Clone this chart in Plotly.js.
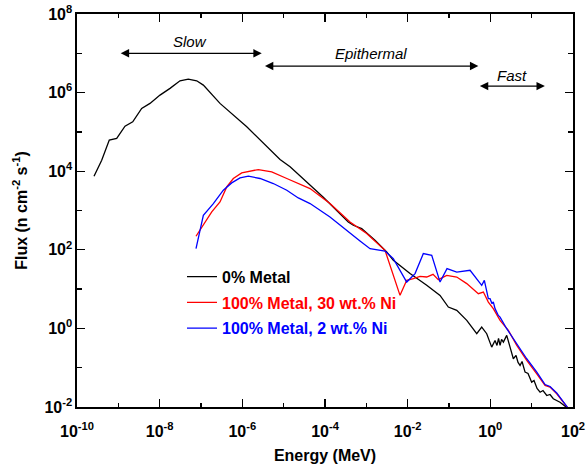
<!DOCTYPE html>
<html>
<head>
<meta charset="utf-8">
<script src="https://cdn.plot.ly/plotly-3.0.1.min.js"></script>
<style>html,body{margin:0;padding:0;background:#fff;}#chart{width:588px;height:464px;}</style>
</head>
<body>
<div id="chart"></div>
<script>
// ---- data (energy in MeV, flux in n cm^-2 s^-1) ----
const metal0_E = [2.58e-10,3.96e-10,6.04e-10,9.13e-10,1.45e-9,2.23e-9,3.67e-9,5.83e-9,1.02e-8,1.78e-8,3.10e-8,4.93e-8,7.87e-8,1.14e-7,2.88e-7,1.28e-6,8.17e-6,1.43e-5,9.10e-5,3.66e-4,4.84e-4,7.72e-4,1.62e-3,3.11e-3,4.50e-3,1.14e-2,2.89e-2,6.07e-2,9.64e-2,0.154,0.269,0.469,0.619,0.818,1.08,1.30,1.45,1.58,1.72,1.87,2.07,2.49,3.00,3.60,4.19,4.68,5.24,5.85,6.92,8.17,10.0,11.4,13.5,16.0,18.8,23.2,27.8,33.4,48.5,70.6];
const metal0_F = [7.46e3,1.91e4,6.17e4,6.81e4,1.40e5,1.80e5,3.96e5,5.31e5,8.63e5,1.28e6,2.00e6,2.21e6,2.00e6,1.55e6,5.31e5,1.35e5,1.99e4,1.29e4,2.18e3,511,421,347,175,87.9,54.0,24.8,12.5,6.93,3.49,2.88,1.60,0.733,1.08,0.733,0.334,0.494,0.369,0.556,0.369,0.525,0.448,0.664,0.334,0.169,0.205,0.136,0.114,0.144,0.0771,0.0714,0.0429,0.0473,0.0296,0.0238,0.0263,0.0196,0.0208,0.0162,0.0132,0.0097];

const ni30_E = [7.57e-8,1.14e-7,1.82e-7,2.88e-7,4.19e-7,6.05e-7,9.66e-7,2.44e-6,5.14e-6,1.19e-5,4.35e-5,1.32e-4,4.03e-4,1.02e-3,2.14e-3,2.83e-3,6.53e-3,9.48e-3,1.37e-2,1.99e-2,2.89e-2,4.11e-2,5.52e-2,8.81e-2,0.154,0.269,0.513,0.678,0.895,1.18,1.72,2.73,4.36,7.60,13.3,21.1,27.8,40.4,73.8];
const ni30_F = [221,421,918,1.65e3,3.98e3,6.52e3,9.06e3,1.10e4,9.59e3,6.52e3,3.62e3,1.50e3,511,259,130,97.1,6.93,16.7,18.5,21.1,20.3,23.8,17.4,22.4,20.3,13.8,7.66,8.41,4.68,3.18,1.60,0.889,0.369,0.153,0.0701,0.0353,0.0320,0.0217,0.0097];

const ni2_E = [7.57e-8,1.14e-7,1.99e-7,3.47e-7,5.53e-7,8.79e-7,1.40e-6,2.68e-6,5.62e-6,1.19e-5,2.26e-5,4.35e-5,1.32e-4,4.03e-4,7.03e-4,1.23e-3,2.83e-3,4.50e-3,9.48e-3,1.51e-2,2.39e-2,3.82e-2,6.07e-2,8.95e-2,0.154,0.323,0.469,0.619,0.716,0.818,0.895,0.984,1.10,1.18,1.30,1.56,1.72,2.49,4.36,7.60,13.3,21.1,27.8,40.4,73.8];
const ni2_F = [107,757,1.50e3,3.28e3,5.04e3,6.75e3,7.46e3,6.52e3,4.86e3,3.28e3,2.09e3,1.50e3,685,259,168,107,93.1,59.7,15.1,24.8,80.0,72.4,15.1,33.2,27.2,30.1,18.5,12.5,16.7,7.66,5.71,5.71,4.26,4.73,3.18,2.14,1.94,0.982,0.407,0.169,0.0771,0.0374,0.0333,0.0228,0.0097];

const seriesNames = ['0% Metal','100% Metal, 30 wt.% Ni','100% Metal, 2 wt.% Ni'];
const seriesColors = ['#000000','#ff0000','#0000ff'];

const regionNames = ['Slow','Epithermal','Fast'];
const regionStart = [1.05e-9, 3.24e-6, 0.513];
const regionEnd   = [2.95e-6, 0.513, 20.9];

const xMajorTicks = [1e-10,1e-8,1e-6,1e-4,1e-2,1e0,1e2];
const xMajorExp   = ['-10','-8','-6','-4','-2','0','2'];
const xMinorTicks = [1e-9,1e-7,1e-5,1e-3,1e-1,1e1];
const yMajorTicks = [1e-2,1e0,1e2,1e4,1e6,1e8];
const yMajorExp   = ['-2','0','2','4','6','8'];
const yMinorTicks = [1e-1,1e1,1e3,1e5,1e7];

const powText = e => '10<sup>' + e + '</sup>';

// ---- traces ----
const xs = [metal0_E, ni30_E, ni2_E];
const ys = [metal0_F, ni30_F, ni2_F];
const traces = xs.map((x,i)=>({
  x: x, y: ys[i], type:'scatter', mode:'lines',
  name: '<span style="color:'+seriesColors[i]+'">'+seriesNames[i]+'</span>',
  legendgroup: 'g'+i,
  line: {color: seriesColors[i], width: 1.3},
  hoverinfo:'skip'
}));

const FONT = 'Liberation Sans, Arial, Helvetica, sans-serif';

// ---- region arrows ----
const arrowY = [7.0, 6.675, 6.166];
const labelY = [7.294, 6.999, 6.446];
const annotations = [];
regionNames.forEach((nm,i)=>{
  const a = Math.log10(regionStart[i]), b = Math.log10(regionEnd[i]);
  annotations.push({
    xref:'x', yref:'y', axref:'x', ayref:'y',
    x: b, y: arrowY[i], ax: a, ay: arrowY[i],
    text:'', showarrow:true, arrowside:'end+start',
    arrowhead:2, arrowsize:1.4, arrowwidth:1.2, arrowcolor:'#000',
    standoff:0, startstandoff:0
  });
  annotations.push({
    xref:'x', yref:'y', x:(a+b)/2, y: labelY[i],
    text:'<i>'+nm+'</i>', showarrow:false,
    font:{family:FONT, size:15, color:'#000'}
  });
});

const axisCommon = {
  type:'log', showgrid:false, zeroline:false,
  showline:true, linecolor:'#000', linewidth:1.6,
  mirror:'ticks', ticks:'inside', ticklen:8, tickwidth:1.3, tickcolor:'#000',
  tickmode:'array',
  tickfont:{family:FONT, size:16, color:'#000', weight:'bold'}
};

const layout = {
  width:588, height:464,
  margin:{l:77, r:15, t:14, b:57},
  paper_bgcolor:'#fff', plot_bgcolor:'#fff',
  showlegend:true,
  legend:{
    x:0.2117, y:0.375, xanchor:'left', yanchor:'top',
    bgcolor:'rgba(0,0,0,0)', borderwidth:0,
    traceorder:'grouped', tracegroupgap:2,
    font:{family:FONT, size:16, weight:'bold'}
  },
  xaxis: Object.assign({}, axisCommon, {
    range:[-10,2],
    tickvals:xMajorTicks, ticktext:xMajorExp.map(powText),
    ticklabelstandoff:9,
    minor:{tickmode:'array', tickvals:xMinorTicks, ticks:'inside', ticklen:4, tickwidth:1.3, tickcolor:'#000'},
    title:{text:'<b>Energy (MeV)</b>', font:{family:FONT, size:16, color:'#000'}, standoff:12}
  }),
  yaxis: Object.assign({}, axisCommon, {
    range:[-2,8],
    tickvals:yMajorTicks, ticktext:yMajorExp.map(powText),
    minor:{tickmode:'array', tickvals:yMinorTicks, ticks:'inside', ticklen:5, tickwidth:1.3, tickcolor:'#000'},
    title:{text:'<b>Flux (n cm<sup>-2</sup> s<sup>-1</sup>)</b>', font:{family:FONT, size:16, color:'#000'}, standoff:13}
  }),
  annotations: annotations
};

Plotly.newPlot('chart', traces, layout, {displayModeBar:false, staticPlot:true});
</script>
</body>
</html>
